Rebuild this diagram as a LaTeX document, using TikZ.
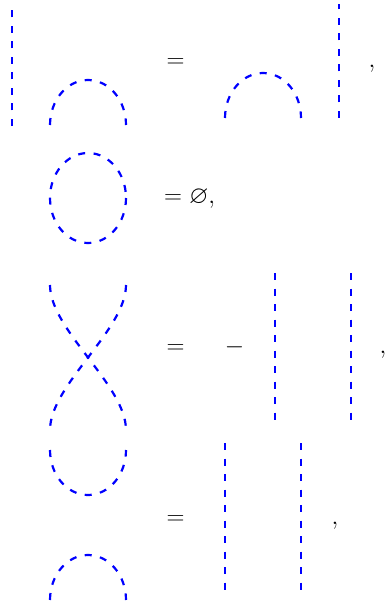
\documentclass[tikz,border=0pt]{standalone}
\usepackage{amsmath, amssymb}
\usepackage{tikz}

\begin{document}
\begin{tikzpicture}[x=1pt, y=-1pt,
  strand/.style={draw=blue, line width=2.2pt, dash pattern=on 7pt off 8.5pt},
  sym/.style={anchor=base, inner sep=0pt, font=\fontsize{25}{30}\selectfont}]

\useasboundingbox (0,0) rectangle (386,607);

% first relation
\draw[strand] (12,126) -- (12,10);
\draw[strand] (50,125) arc[start angle=180, end angle=360, x radius=38, y radius=45];
\node (eq1) at (175.5,68) [sym] {$=$};
\draw[strand] (225,118) arc[start angle=180, end angle=360, x radius=38, y radius=45];
\draw[strand] (339,118) -- (339,4);
\node (comma1) at (372,68) [sym] {$,$};

% closed loop
\draw[strand] (88,198) ellipse[x radius=38, y radius=45];
\node (eq2) at (164,203) [sym, anchor=base west] {$=\varnothing,$};

% crossing
\draw[strand] (50,285) .. controls (50,330) and (126,385) .. (126,430);
\draw[strand] (126,285) .. controls (126,330) and (50,385) .. (50,430);
\node (eq3) at (175.5,353.5) [sym] {$=$};
\node (minus) at (234.5,353.5) [sym] {$-$};
\draw[strand] (275,273) -- (275,424);
\draw[strand] (351,273) -- (351,424);
\node (comma3) at (383,353.5) [sym] {$,$};

% cup and cap
\draw[strand] (50,450) arc[start angle=180, end angle=0, x radius=38, y radius=45];
\draw[strand] (50,600) arc[start angle=180, end angle=360, x radius=38, y radius=45];
\node (eq4) at (175.5,524) [sym] {$=$};
\draw[strand] (225,443) -- (225,594);
\draw[strand] (301,443) -- (301,594);
\node (comma4) at (335,524) [sym] {$,$};

\end{tikzpicture}
\end{document}
